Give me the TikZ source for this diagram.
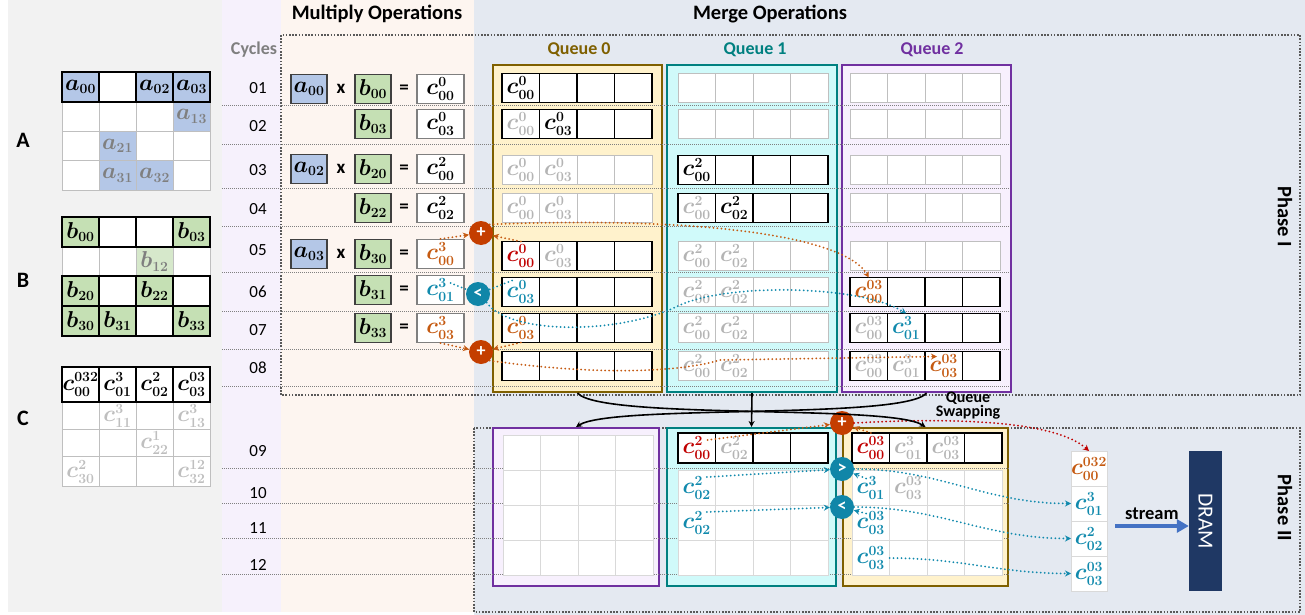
\RequirePackage{fix-cm}
\documentclass[tikz,border=0pt]{standalone}
\usepackage{amsmath}
\usepackage{bm}
\usepackage{fontspec}
\setmainfont{Carlito}
\usetikzlibrary{positioning}
\usetikzlibrary{arrows.meta}

\definecolor{panelgray}{RGB}{242,242,242}
\definecolor{cyclebg}{RGB}{246,241,252}
\definecolor{mulbg}{RGB}{253,245,240}
\definecolor{mergebg}{RGB}{228,233,241}
\definecolor{q0fill}{RGB}{255,242,204}
\definecolor{q0line}{RGB}{127,96,0}
\definecolor{q1fill}{RGB}{208,250,250}
\definecolor{q1line}{RGB}{0,128,128}
\definecolor{q2fill}{RGB}{247,240,253}
\definecolor{q2line}{RGB}{112,48,160}
\definecolor{ablue}{RGB}{180,199,231}
\definecolor{bgreen}{RGB}{197,224,180}
\definecolor{bfaint}{RGB}{214,232,203}
\definecolor{idlegray}{RGB}{191,191,191}
\definecolor{gridgray}{RGB}{217,217,217}
\definecolor{txtgray}{RGB}{180,180,180}
\definecolor{agray}{RGB}{127,127,127}
\definecolor{corange}{RGB}{197,90,17}
\definecolor{cred}{RGB}{192,0,0}
\definecolor{cblue}{RGB}{17,138,173}
\definecolor{oporange}{RGB}{196,62,0}
\definecolor{opblue}{RGB}{16,134,168}
\definecolor{streamblue}{RGB}{68,114,196}
\definecolor{dramblue}{RGB}{31,56,100}
\definecolor{phasegray}{RGB}{89,89,89}
\definecolor{sepgray}{RGB}{128,128,128}
\definecolor{darkline}{RGB}{64,64,64}

\DeclareMathSizes{23}{23}{14}{10}
\DeclareMathAlphabet{\mathidx}{OT1}{cmr}{bx}{n}
\newcommand\cellfont{\fontsize{23}{25}\selectfont}
\newcommand\av[2][black]{\textcolor{#1}{$\bm{a}_{\mathidx{#2}}$}}
\newcommand\bv[2][black]{\textcolor{#1}{$\bm{b}_{\mathidx{#2}}$}}
\newcommand\cv[3][black]{\textcolor{#1}{$\bm{c}^{\mathidx{#2}}_{\mathidx{#3}}$}}
% row of four cells: name, left x, centre y, style, list of cellstyle/content
\newcommand\cellrow[5]{%
  \coordinate (#1-0) at (#2,#3);
  \foreach \s/\t [count=\i, evaluate=\i as \j using int(\i-1)] in {#5}
    {\node[#4,\s,right=0pt of #1-\j] (#1-\i) {\t};}}

\tikzset{
  w/.style={},
  cell/.style={draw, minimum width=37.5pt, minimum height=29pt, inner sep=0pt, outer sep=0pt, fill=white, font=\cellfont},
  act/.style={cell, draw=black, line width=1.3pt},
  idle/.style={cell, draw=idlegray, line width=0.9pt},
  pidle/.style={cell, draw=gridgray, line width=0.9pt, minimum height=35pt},
  mtop/.style={act, minimum width=37pt, minimum height=30pt},
  mid/.style={idle, minimum width=37pt, minimum height=29.5pt},
  afill/.style={fill=ablue},
  bfill/.style={fill=bgreen},
  bpale/.style={fill=bfaint},
  ocell/.style={cell, draw=gridgray, line width=1pt, minimum width=36pt, minimum height=35pt},
  mbox/.style={draw=darkline, line width=1.2pt, minimum width=36pt, minimum height=29pt, inner sep=0pt, font=\cellfont},
  abox/.style={mbox, fill=ablue},
  bbox/.style={mbox, fill=bgreen},
  cbox/.style={mbox, fill=white, draw=agray, minimum width=47pt},
  sign/.style={font=\fontsize{19}{19}\selectfont\bfseries},
  qframe/.style={line width=2pt, minimum width=169pt, minimum height=327pt, inner sep=0pt},
  sframe/.style={line width=2pt, minimum height=158pt, inner sep=0pt},
  qlabel/.style={font=\fontsize{18}{18}\selectfont\bfseries},
  head/.style={font=\fontsize{20.5}{20.5}\selectfont\bfseries},
  cyc/.style={font=\fontsize{17}{17}\selectfont},
  mlabel/.style={font=\fontsize{22}{22}\selectfont\bfseries},
  phase/.style={rotate=-90, font=\fontsize{20.5}{20.5}\selectfont\bfseries},
  opc/.style={circle, minimum size=24pt, inner sep=0pt, text=white, font=\fontsize{18}{18}\selectfont\bfseries},
  plusop/.style={opc, fill=oporange},
  cmpop/.style={opc, fill=opblue},
  odot/.style={draw=corange, line width=2pt, line cap=round, dash pattern=on 0pt off 4pt, ->},
  rdot/.style={odot, draw=cred},
  bdot/.style={odot, draw=cblue},
  sep/.style={draw=sepgray, line width=0.9pt, dash pattern=on 1pt off 1pt},
  phasebox/.style={draw=phasegray, line width=1.5pt, dash pattern=on 1.6pt off 1.6pt},
  swap/.style={draw=black, line width=1.6pt, ->},
  dram/.style={rotate=-90, fill=dramblue, text=white, minimum width=140pt, minimum height=33pt, font=\fontsize{21.5}{21.5}\selectfont},
}

\begin{document}
\begin{tikzpicture}[x=1pt, y=-1pt, >={Stealth[length=6pt, width=6pt]}]
% background bands
\fill[panelgray] (8,0) rectangle (222,612);
\fill[cyclebg] (222,0) rectangle (281,612);
\fill[mulbg] (281,0) rectangle (474,612);
\fill[mergebg] (474,0) rectangle (1305,615);
\useasboundingbox (0,0) rectangle (1305,615);

\node[head] (mulhead) at (377,14) {Multiply Operations};
\node[head] (mrghead) at (770,14) {Merge Operations};
\node[cyc, text=agray, font=\fontsize{18}{18}\selectfont\bfseries] (cychead) at (254,50) {Cycles};

% phase boxes
\draw[phasebox] (281,395) -- (281,35) -- (1300,35) -- (1300,395) -- cycle;
\draw[phasebox] (474,428) rectangle (1300,612);
\node[phase] (ph1) at (1285,217) {Phase I};
\node[phase] (ph2) at (1285,508) {Phase II};

% queues
\node[qframe, draw=q0line, fill=q0fill] (q0) at (577.5,228.5) {};
\node[qframe, draw=q1line, fill=q1fill, minimum width=170pt] (q1) at (752,228.5) {};
\node[qframe, draw=q2line, fill=q2fill] (q2) at (926.5,228.5) {};
\node[qlabel, text=q0line] (q0lab) at (579,50) {Queue 0};
\node[qlabel, text=q1line] (q1lab) at (755,50) {Queue 1};
\node[qlabel, text=q2line] (q2lab) at (932,50) {Queue 2};
\node[sframe, draw=q2line, fill=q2fill, minimum width=166pt] (s0) at (576,507) {};
\node[sframe, draw=q1line, fill=q1fill, minimum width=169pt] (s1) at (751.5,507) {};
\node[sframe, draw=q0line, fill=q0fill, minimum width=165pt] (s2) at (925.5,507) {};

% cycle rows
\foreach \y in {105,144,188,226,272,311,349,386,468,503,538,574}
  \draw[sep] (222,\y) -- (1010,\y);
\foreach \n/\y in {01/88,02/126,03/170,04/209,05/250,06/292,07/330,08/368,09/451,10/493,11/528,12/565}
  \node[cyc] (cyc\n) at (258,\y) {\n};

% matrices
\node[mlabel] (labA) at (23,140) {A};
\node[mlabel] (labB) at (23,280) {B};
\node[mlabel] (labC) at (23,418) {C};
\cellrow{A1}{62}{116.5}{mid}{w/, w/, w/, afill/\av[agray]{13}}
\cellrow{A2}{62}{146}{mid}{w/, afill/\av[agray]{21}, w/, w/}
\cellrow{A3}{62}{175.5}{mid}{w/, afill/\av[agray]{31}, afill/\av[agray]{32}, w/}
\cellrow{A0}{62}{87}{mtop}{afill/\av{00}, w/, afill/\av{02}, afill/\av{03}}
\cellrow{B1}{62}{261.5}{mid}{w/, w/, bpale/\bv[agray]{12}, w/}
\cellrow{B0}{62}{232}{mtop}{bfill/\bv{00}, w/, w/, bfill/\bv{03}}
\cellrow{B2}{62}{291}{mtop}{bfill/\bv{20}, w/, bfill/\bv{22}, w/}
\cellrow{B3}{62}{321}{mtop}{bfill/\bv{30}, bfill/\bv{31}, w/, bfill/\bv{33}}
\cellrow{C1}{62}{415.5}{mid, minimum height=27pt}{w/, w/\cv[idlegray]{3}{11}, w/, w/\cv[idlegray]{3}{13}}
\cellrow{C2}{62}{443}{mid, minimum height=28pt}{w/, w/, w/\cv[idlegray]{1}{22}, w/}
\cellrow{C3}{62}{471.5}{mid}{w/\cv[idlegray]{2}{30}, w/, w/, w/\cv[idlegray]{12}{32}}
\cellrow{C0}{62}{384.5}{mtop, minimum height=35pt}{w/\cv{032}{00}, w/\cv{3}{01}, w/\cv{2}{02}, w/\cv{03}{03}}

% multiply operations
\foreach \y/\b/\c [count=\r] in {89/\bv{00}/\cv{0}{00}, 124/\bv{03}/\cv{0}{03}, 169/\bv{20}/\cv{2}{00},
    208/\bv{22}/\cv{2}{02}, 254/\bv{30}/\cv[corange]{3}{00}, 290/\bv{31}/\cv[cblue]{3}{01},
    328/\bv{33}/\cv[corange]{3}{03}} {
  \node[bbox] (mb\r) at (373,\y) {\b};
  \node[cbox] (mc\r) at (440.5,\y) {\c};
}
\foreach \r/\y/\a in {1/89/00, 3/169/02, 5/254/03} {
  \node[abox] (ma\r) at (309,\y) {\av{\a}};
  \node[sign] (mx\r) at (341,\y) {x};
}
\foreach \r/\y in {1/89, 3/169, 4/208, 5/254, 6/290, 7/328}
  \node[sign] (meq\r) at (404,\y) {=};

% phase I queue contents
\cellrow{q0r1}{502}{88}{act}{w/\cv{0}{00}, w/, w/, w/}
\cellrow{q0r2}{502}{124}{act}{w/\cv[txtgray]{0}{00}, w/\cv{0}{03}, w/, w/}
\cellrow{q0r3}{502}{170}{idle}{w/\cv[txtgray]{0}{00}, w/\cv[txtgray]{0}{03}, w/, w/}
\cellrow{q0r4}{502}{208}{idle}{w/\cv[txtgray]{0}{00}, w/\cv[txtgray]{0}{03}, w/, w/}
\cellrow{q0r5}{502}{256}{act}{w/\cv[cred]{0}{00}, w/\cv[txtgray]{0}{03}, w/, w/}
\cellrow{q0r6}{502}{292}{act}{w/\cv[cblue]{0}{03}, w/, w/, w/}
\cellrow{q0r7}{502}{328}{act}{w/\cv[corange]{0}{03}, w/, w/, w/}
\cellrow{q0r8}{502}{366}{act}{w/, w/, w/, w/}
\cellrow{q1r1}{678}{88}{idle}{w/, w/, w/, w/}
\cellrow{q1r2}{678}{124}{idle}{w/, w/, w/, w/}
\cellrow{q1r3}{678}{170}{act}{w/\cv{2}{00}, w/, w/, w/}
\cellrow{q1r4}{678}{208}{act}{w/\cv[txtgray]{2}{00}, w/\cv{2}{02}, w/, w/}
\foreach \r/\y in {5/256, 6/292, 7/328, 8/366}
  {\cellrow{q1r\r}{678}{\y}{idle}{w/\cv[txtgray]{2}{00}, w/\cv[txtgray]{2}{02}, w/, w/}}
\foreach \r/\y in {1/88, 2/124, 3/170, 4/208, 5/256}
  {\cellrow{q2r\r}{850}{\y}{idle}{w/, w/, w/, w/}}
\cellrow{q2r6}{850}{292}{act}{w/\cv[corange]{03}{00}, w/, w/, w/}
\cellrow{q2r7}{850}{328}{act}{w/\cv[txtgray]{03}{00}, w/\cv[cblue]{3}{01}, w/, w/}
\cellrow{q2r8}{850}{366}{act}{w/\cv[txtgray]{03}{00}, w/\cv[txtgray]{3}{01}, w/\cv[corange]{03}{03}, w/}

% phase II queue contents
\foreach \r/\y in {1/453, 2/488, 3/523, 4/558}
  {\cellrow{s0r\r}{503}{\y}{pidle}{w/, w/, w/, w/}}
\cellrow{s1r1}{678}{448}{act, minimum height=30pt}{w/\cv[cred]{2}{00}, w/\cv[txtgray]{2}{02}, w/, w/}
\cellrow{s1r2}{678}{488}{pidle}{w/\cv[cblue]{2}{02}, w/, w/, w/}
\cellrow{s1r3}{678}{523}{pidle}{w/\cv[cblue]{2}{02}, w/, w/, w/}
\cellrow{s1r4}{678}{558}{pidle}{w/, w/, w/, w/}
\cellrow{s2r1}{852}{448}{act, minimum height=30pt}{w/\cv[cred]{03}{00}, w/\cv[txtgray]{3}{01}, w/\cv[txtgray]{03}{03}, w/}
\cellrow{s2r2}{852}{488}{pidle}{w/\cv[cblue]{3}{01}, w/\cv[txtgray]{03}{03}, w/, w/}
\cellrow{s2r3}{852}{523}{pidle}{w/\cv[cblue]{03}{03}, w/, w/, w/}
\cellrow{s2r4}{852}{558}{pidle}{w/\cv[cblue]{03}{03}, w/, w/, w/}

% output buffer and DRAM
\foreach \t [count=\i] in {\cv[corange]{032}{00}, \cv[cblue]{3}{01}, \cv[cblue]{2}{02}, \cv[cblue]{03}{03}}
  \node[ocell] (out\i) at (1089,433.5+35*\i) {\t};
\node[dram] (dram) at (1205.5,521) {DRAM};
\coordinate (st) at (1115,526);
\draw[draw=streamblue, line width=3.5pt, -{Triangle[length=12pt, width=13pt]}] (st) -- (st -| dram.south)
  node[midway, above=1pt, font=\fontsize{18.5}{18.5}\selectfont\bfseries] (stlab) {stream};

% merge units
\node[plusop] (plus1) at (481,233) {+};
\node[cmpop] (lt1) at (478,294) {<};
\node[plusop] (plus2) at (481,352) {+};
\node[plusop] (plus3) at (842,423) {+};
\node[cmpop] (gt2) at (842,469) {>};
\node[cmpop] (lt2) at (842,507) {<};

% phase I flows
\draw[odot] (mc5.north) -- (plus1);
\draw[odot] (q0r5-1.north) -- (plus1);
\draw[odot] (plus1.north east) .. controls (700,216) and (845,236) .. (q2r6-1.north);
\draw[bdot,-] ([shift={(10pt,7pt)}]mc6.center) -- (lt1);
\draw[bdot,-] ([shift={(10pt,-3pt)}]q0r6-1.north west) -- (lt1);
\draw[bdot] (lt1.south east) .. controls (510,335) and (620,335) .. (680,305) .. controls (730,283) and (860,285) .. (q2r7-2.north);
\draw[odot] (mc7.south) -- (plus2);
\draw[odot] (q0r7-1.south) -- (plus2);
\draw[odot] (plus2.south east) .. controls (600,376) and (680,372) .. (720,360) -- ([shift={(12pt,-5pt)}]q2r8-3.north west);

% phase II flows
\draw[odot] ([shift={(-8pt,-7pt)}]s1r1-1.north east) -- (plus3);
\draw[odot] (s2r1-1.north) -- (plus3);
\draw[rdot] (plus3.east) .. controls (980,416) and (1060,425) .. (out1.north);
\draw[bdot] ([shift={(10pt,11pt)}]s1r2-1.center) -- (gt2);
\draw[bdot] ([shift={(14pt,-8pt)}]s2r2-1.north west) -- (gt2);
\draw[bdot] (gt2.east) to[out=0, in=180] (out2.west);
\draw[bdot] ([shift={(10pt,11pt)}]s1r3-1.center) -- (lt2);
\draw[bdot] ([shift={(14pt,-8pt)}]s2r3-1.north west) -- (lt2);
\draw[bdot] (lt2.east) to[out=0, in=180] (out3.west);
\draw[bdot] (s2r4-1.east) to[out=0, in=180] (out4.west);

% queue swapping
\draw[swap] (q0.south) .. controls (600,420) and (890,404) .. (s2.north);
\draw[swap] (q2.south) .. controls (905,420) and (612,404) .. (s0.north);
\draw[swap] (q1.south) -- (s1.north);
\node[align=center, font=\fontsize{16}{14}\selectfont\bfseries] (swaplab) at (968,406) {Queue\\Swapping};
\end{tikzpicture}
\end{document}
